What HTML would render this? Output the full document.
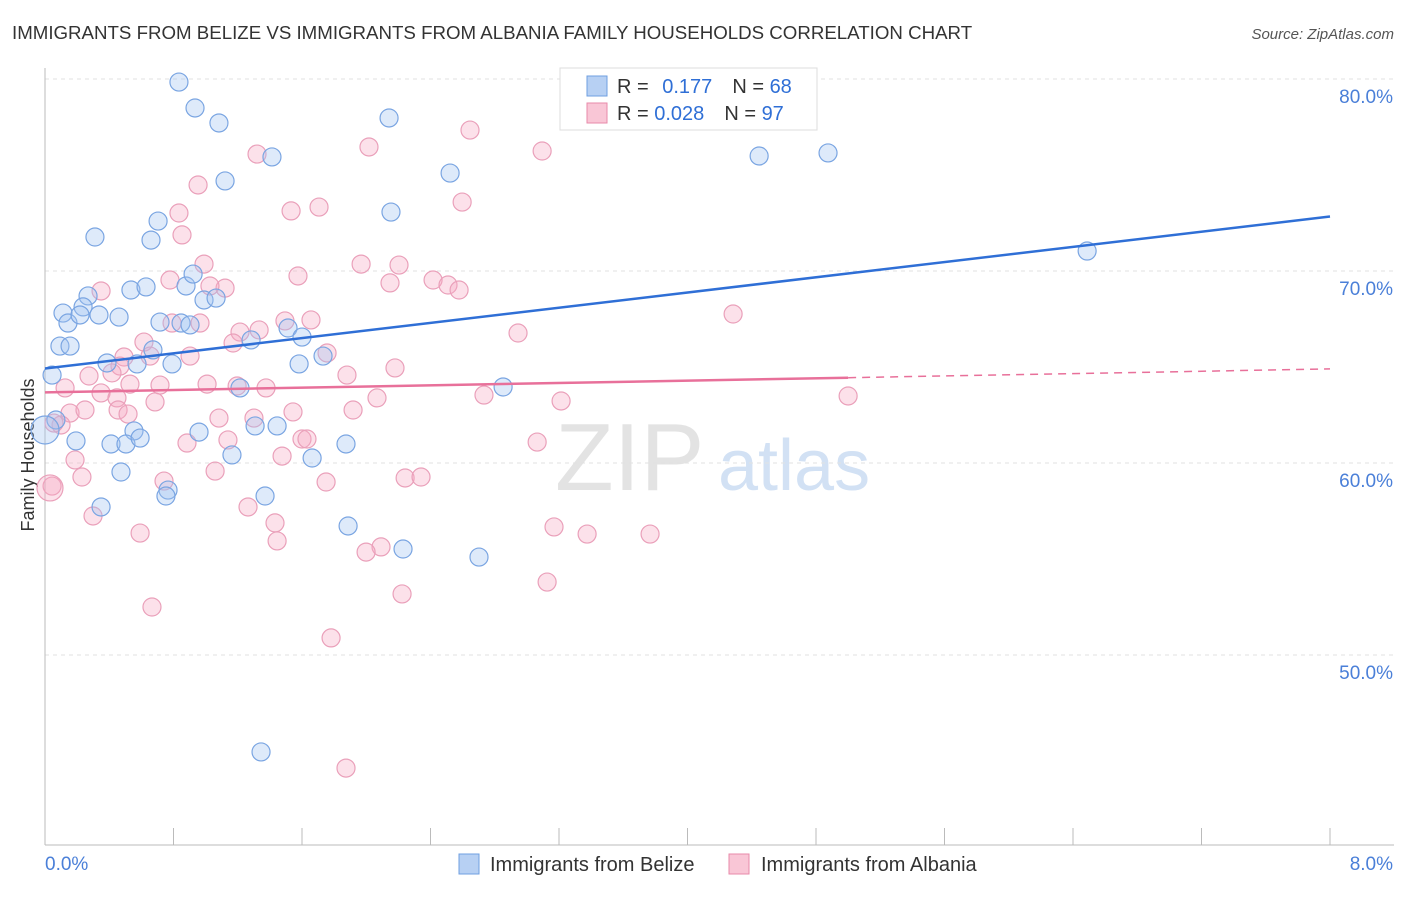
<!DOCTYPE html>
<html><head><meta charset="utf-8"><style>
body{margin:0;background:#fff;font-family:"Liberation Sans",sans-serif}
svg text{font-family:"Liberation Sans",sans-serif}
</style></head><body>
<svg id="chart" width="1406" height="892" xmlns="http://www.w3.org/2000/svg">
<text x="12" y="39" font-size="18.7" fill="#333">IMMIGRANTS FROM BELIZE VS IMMIGRANTS FROM ALBANIA FAMILY HOUSEHOLDS CORRELATION CHART</text>
<text x="1394" y="39" font-size="15" fill="#555" text-anchor="end" font-style="italic">Source: ZipAtlas.com</text>
<text x="34" y="455" font-size="18" fill="#333" text-anchor="middle" transform="rotate(-90 34 455)">Family Households</text>
<g><text x="555" y="490" font-size="96" fill="#ddd" font-family="Liberation Serif" opacity="0.8">ZIP</text><text x="718" y="490" font-size="72" fill="#c8daf2" opacity="0.8">atlas</text></g>
<g id="grid"></g><g id="pts"></g><g id="trend"></g>
<g>
<rect x="560" y="68" width="257" height="62" fill="#fff" stroke="#ddd"/>
<rect x="587" y="76" width="20" height="20" fill="#b7d0f3" stroke="#6f9fe0"/>
<text x="617" y="93" font-size="20" fill="#333">R = <tspan fill="#2f6fd6" dx="8">0.177</tspan><tspan dx="20" fill="#333">N = </tspan><tspan fill="#2f6fd6">68</tspan></text>
<rect x="587" y="103" width="20" height="20" fill="#f9c6d6" stroke="#e88aaa"/>
<text x="617" y="120" font-size="20" fill="#333">R = <tspan fill="#2f6fd6">0.028</tspan><tspan dx="20" fill="#333">N = </tspan><tspan fill="#2f6fd6">97</tspan></text>
</g>
<g>
<rect x="459" y="854" width="20" height="20" fill="#b7d0f3" stroke="#6f9fe0"/>
<text x="490" y="871" font-size="20" fill="#333">Immigrants from Belize</text>
<rect x="729" y="854" width="20" height="20" fill="#f9c6d6" stroke="#e88aaa"/>
<text x="761" y="871" font-size="20" fill="#333">Immigrants from Albania</text>
</g>
</svg>
<script>
const yTicks=[50,60,70,80];
const xTickLabels=["0.0%","8.0%"];
const belizeX=[0.834,0.934,1.083,1.413,2.142,1.121,0.704,0.311,0.660,2.154,2.522,4.446,4.875,6.488,0.535,0.629,0.878,0.922,0.990,1.065,0.268,0.112,0.237,0.336,0.143,0.218,0.461,0.716,0.847,0.903,1.513,1.600,1.283,0.093,0.156,1.731,0.672,0.791,0.573,0.386,1.582,0.044,1.214,2.852,0.068,0.193,0.554,0.411,0.504,0.592,0.959,1.308,1.445,1.164,1.663,1.874,0.473,0.766,0.753,1.370,0.349,1.887,2.229,2.702,1.345,0.0];
const belizeY=[79.84,78.49,77.71,75.94,77.97,74.69,72.60,71.77,71.61,73.07,75.10,75.99,76.15,71.04,69.01,69.17,69.22,69.84,68.49,68.59,68.70,67.81,68.13,67.71,67.29,67.71,67.60,67.34,67.29,67.19,67.03,66.56,66.41,66.09,66.09,65.57,65.89,65.16,65.16,65.21,65.16,64.58,63.91,63.96,62.24,61.15,61.67,60.99,60.99,61.30,61.61,61.93,61.93,60.42,60.26,60.99,59.53,58.59,58.28,58.28,57.71,56.72,55.52,55.10,44.95,61.72];
const albaniaX=[2.646,2.017,3.095,1.320,0.953,2.597,1.532,1.706,0.834,0.853,0.990,1.575,1.968,2.204,2.148,2.416,2.509,2.578,1.121,1.027,0.349,0.778,0.791,0.965,1.494,1.656,1.214,1.333,1.171,0.616,2.945,4.284,1.756,0.903,0.654,0.492,0.467,0.417,0.274,1.880,2.179,0.125,0.349,0.448,0.529,0.716,1.009,1.196,1.376,0.685,0.455,0.156,0.249,0.517,1.083,1.301,1.544,1.918,2.067,2.733,3.213,5.000,0.100,0.187,0.884,1.139,1.600,1.631,3.064,1.476,1.059,1.750,2.242,2.341,0.741,0.230,0.044,1.264,1.432,0.299,0.592,1.445,3.169,3.375,3.767,2.092,1.999,2.223,3.126,0.666,1.781,1.874,0.056,0.031];
const albaniaY=[77.34,76.46,76.25,76.09,74.48,73.59,73.13,73.33,73.02,71.88,70.36,69.74,70.36,70.31,69.38,69.53,69.27,69.01,69.11,69.22,68.96,69.53,67.29,67.29,67.40,67.45,66.82,66.93,66.25,66.30,66.77,67.76,65.73,65.57,65.57,65.52,65.05,64.69,64.53,64.58,64.95,63.91,63.65,63.39,64.11,64.06,64.11,64.01,63.91,63.18,62.76,62.60,62.76,62.55,62.34,62.34,62.66,62.76,63.39,63.54,63.23,63.49,61.98,60.16,61.04,61.20,61.25,61.25,61.09,60.36,59.58,59.01,59.22,59.27,59.06,59.27,58.80,57.71,56.88,57.24,56.35,55.94,56.67,56.30,56.30,55.63,55.36,53.18,53.80,52.50,50.89,44.11,62.08,58.70];
const belizeTrend=[64.92,72.84];
const albaniaTrend=[63.68,64.90];
const albaniaSolidEnd=5.0;
const X=v=>45+v/8*1285, Y=v=>79+(80-v)*19.2;
const NS="http://www.w3.org/2000/svg";
function mk(tag,attrs,parent){const e=document.createElementNS(NS,tag);for(const k in attrs)e.setAttribute(k,attrs[k]);parent.appendChild(e);return e;}
const grid=document.getElementById('grid');
yTicks.forEach(t=>{
 const l=mk('line',{x1:45,x2:1394,y1:Y(t),y2:Y(t),stroke:'#e2e2e2','stroke-dasharray':'4 4'},grid);
 
 
 const tx=mk('text',{x:1393,y:Y(t)+24,'font-size':19,fill:'#4a7fd8','text-anchor':'end'},grid);
 tx.textContent=t.toFixed(1)+'%';
 
 
});
const ax=mk('line',{x1:45,x2:1394,y1:845,y2:845,stroke:'#bbb'},grid);


const ay=mk('line',{x1:45,x2:45,y1:68,y2:845,stroke:'#bbb'},grid);


for(let i=0;i<=10;i++){const t=mk('line',{x1:X(i*0.8),x2:X(i*0.8),y1:828,y2:845,stroke:'#bbb'},grid);
 
 }
[[0,45,'start'],[1,1393,'end']].forEach(([i,x,a])=>{const t=mk('text',{x:x,y:870,'font-size':19,fill:'#4a7fd8','text-anchor':a},grid);t.textContent=xTickLabels[i];
 
 });
const pts=document.getElementById('pts');
albaniaX.forEach((v,i)=>{const c=mk('circle',{cx:X(v),cy:Y(albaniaY[i]),r:i>=albaniaX.length-1?13:9,fill:'rgba(246,170,195,0.35)',stroke:'#eaa0ba','stroke-width':1.2},pts);
 
 });
belizeX.forEach((v,i)=>{const c=mk('circle',{cx:X(v),cy:Y(belizeY[i]),r:i>=belizeX.length-1?14:9,fill:'rgba(160,195,240,0.35)',stroke:'#7aa5e2','stroke-width':1.2},pts);
 
 });
const tr=document.getElementById('trend');
const b=mk('line',{x1:X(0),y1:Y(belizeTrend[0]),x2:X(8),y2:Y(belizeTrend[1]),stroke:'#2f6fd6','stroke-width':2.5},tr);


const ya=albaniaTrend[0]+(albaniaTrend[1]-albaniaTrend[0])*albaniaSolidEnd/8;
const a1=mk('line',{x1:X(0),y1:Y(albaniaTrend[0]),x2:X(albaniaSolidEnd),y2:Y(ya),stroke:'#e8709a','stroke-width':2.5},tr);


const a2=mk('line',{x1:X(albaniaSolidEnd),y1:Y(ya),x2:X(8),y2:Y(albaniaTrend[1]),stroke:'#e8709a','stroke-width':1.5,'stroke-dasharray':'8 6'},tr);


</script>
</body></html>
